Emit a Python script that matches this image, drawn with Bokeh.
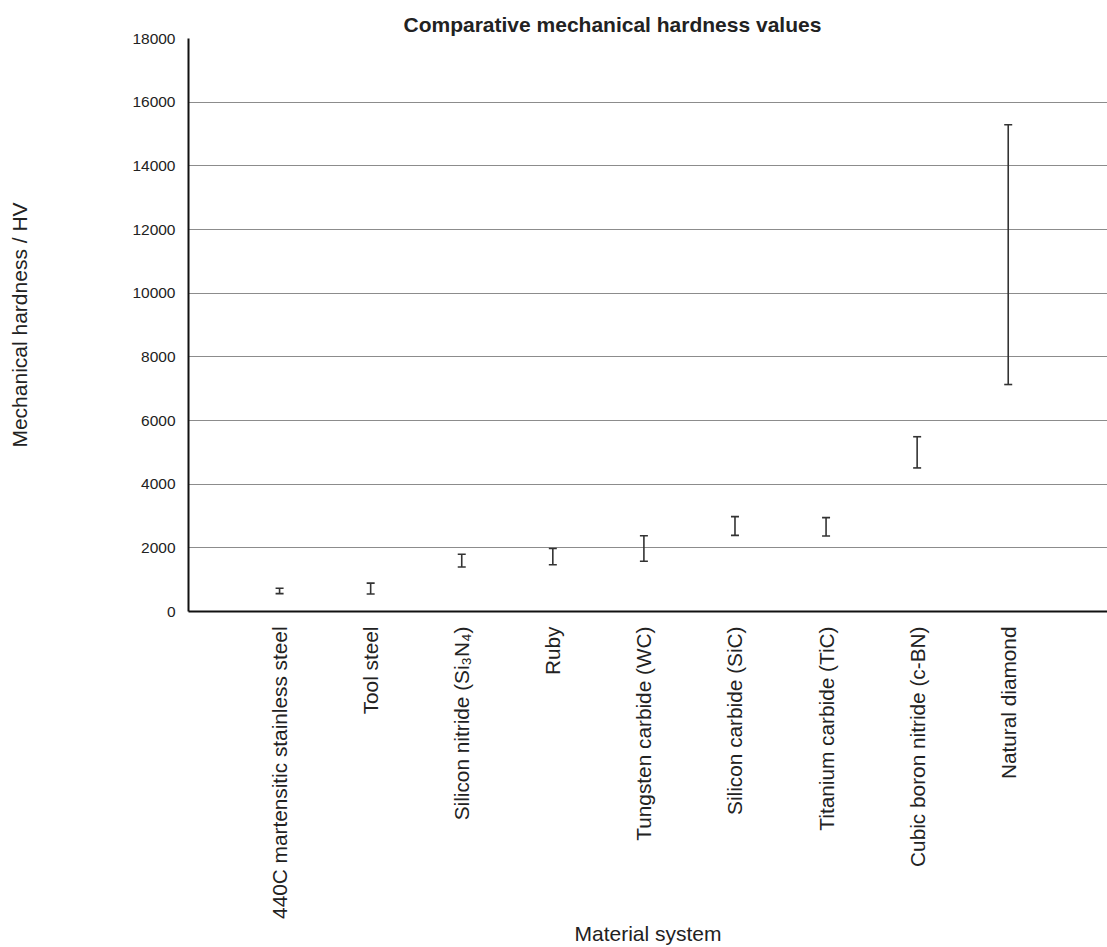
import math
from bokeh.plotting import figure
from bokeh.models import Range1d, FixedTicker, ColumnDataSource
from bokeh.embed import file_html
from bokeh.resources import INLINE

materials = [
    "440C martensitic stainless steel",
    "Tool steel",
    "Silicon nitride (Si\u2083N\u2084)",
    "Ruby",
    "Tungsten carbide (WC)",
    "Silicon carbide (SiC)",
    "Titanium carbide (TiC)",
    "Cubic boron nitride (c-BN)",
    "Natural diamond",
]
hv_low = [560, 550, 1400, 1470, 1580, 2390, 2370, 4510, 7130]
hv_high = [730, 890, 1800, 1980, 2380, 2980, 2950, 5490, 15290]
y_ticks = [0, 2000, 4000, 6000, 8000, 10000, 12000, 14000, 16000, 18000]

positions = list(range(1, len(materials) + 1))
src = ColumnDataSource(dict(x=positions, lo=hv_low, hi=hv_high))

FONT = "Liberation Sans"

p = figure(width=1107, height=947, output_backend="svg", toolbar_location=None,
           x_range=Range1d(0, 10.09), y_range=Range1d(0, 18000),
           min_border_left=188, min_border_right=0, min_border_top=38,
           title="Comparative mechanical hardness values")
p.outline_line_color = None
p.background_fill_color = "white"

p.title.text_font = FONT
p.title.text_font_size = "21px"
p.title.text_font_style = "bold"
p.title.text_color = "#222222"
p.title.align = "left"
p.title.offset = 215
p.title.standoff = 6

# y axis
p.yaxis.ticker = FixedTicker(ticks=y_ticks)
p.yaxis.axis_line_width = 2
p.yaxis.axis_line_color = "#111111"
p.yaxis.major_tick_line_color = None
p.yaxis.minor_tick_line_color = None
p.yaxis.major_label_text_font = FONT
p.yaxis.major_label_text_font_size = "15.5px"
p.yaxis.major_label_text_color = "#222222"
p.yaxis.major_label_standoff = 7
p.yaxis.axis_label = "Mechanical hardness / HV"
p.yaxis.axis_label_text_font = FONT
p.yaxis.axis_label_text_font_size = "21px"
p.yaxis.axis_label_text_font_style = "normal"
p.yaxis.axis_label_text_color = "#222222"
p.yaxis.axis_label_standoff = 98

# x axis
p.xaxis.ticker = FixedTicker(ticks=positions)
p.xaxis.major_label_overrides = {pos: name for pos, name in zip(positions, materials)}
p.xaxis.major_label_orientation = math.pi / 2
p.xaxis.axis_line_width = 2
p.xaxis.axis_line_color = "#111111"
p.xaxis.major_tick_line_color = None
p.xaxis.minor_tick_line_color = None
p.xaxis.major_label_text_font = FONT
p.xaxis.major_label_text_font_size = "20.8px"
p.xaxis.major_label_text_color = "#222222"
p.xaxis.major_label_standoff = 9
p.xaxis.axis_label = "Material system"
p.xaxis.axis_label_text_font = FONT
p.xaxis.axis_label_text_font_size = "21px"
p.xaxis.axis_label_text_font_style = "normal"
p.xaxis.axis_label_text_color = "#222222"
p.xaxis.axis_label_standoff = 0

p.xgrid.grid_line_color = None
p.ygrid.ticker = FixedTicker(ticks=y_ticks[1:])
p.ygrid.grid_line_color = "#8c8c8c"
p.ygrid.grid_line_width = 1

# error bars
p.segment(x0="x", y0="lo", x1="x", y1="hi", source=src,
          line_color="#333333", line_width=1.6)
p.scatter(x="x", y="lo", source=src, marker="dash", size=8,
          line_color="#333333", line_width=1.6)
p.scatter(x="x", y="hi", source=src, marker="dash", size=8,
          line_color="#333333", line_width=1.6)

open("out.html", "w").write(file_html(p, INLINE))
